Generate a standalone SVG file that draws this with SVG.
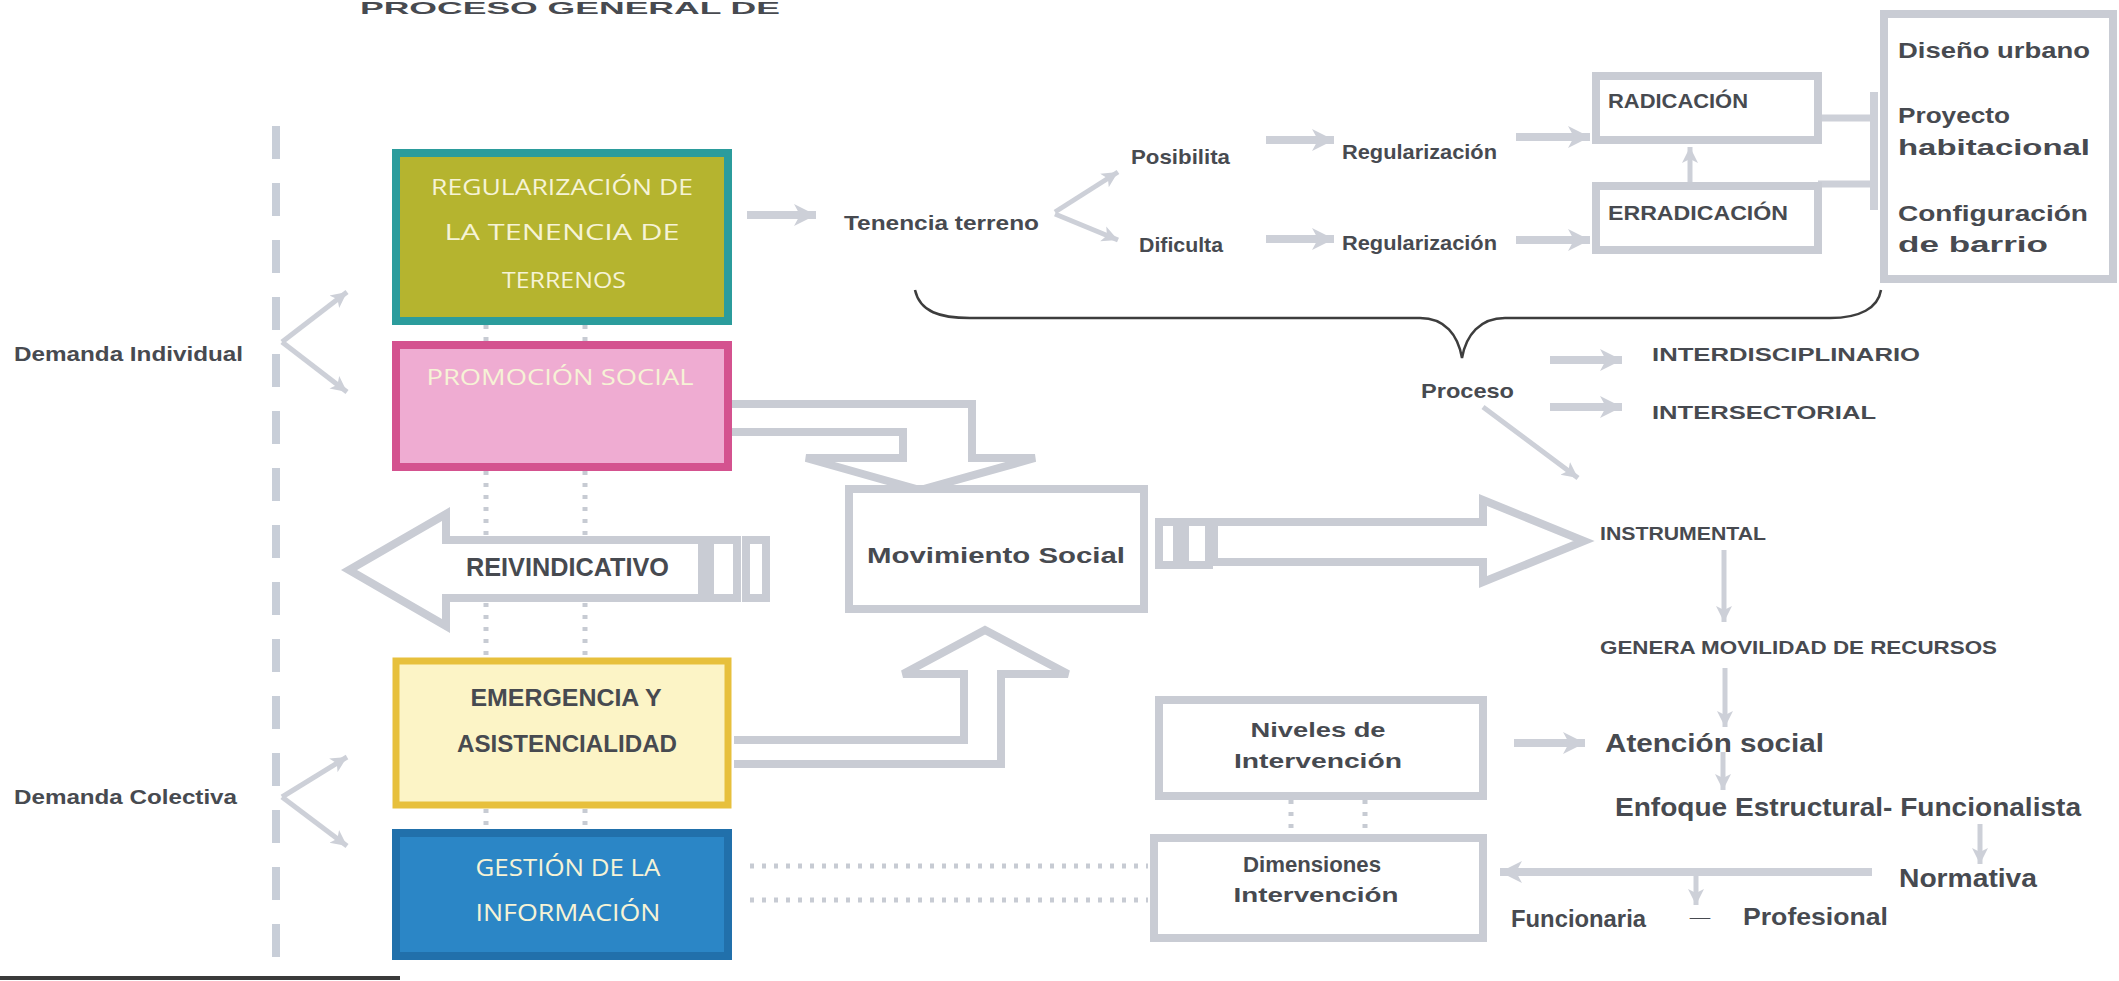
<svg xmlns="http://www.w3.org/2000/svg" width="2119" height="981" viewBox="0 0 2119 981">
<style>
.t{font-family:"Liberation Sans","DejaVu Sans",sans-serif;font-weight:bold;fill:#474a50}
.w{font-family:"Open Sans","Liberation Sans",sans-serif;fill:#f6f3d6}
.box{fill:#fff;stroke:#c9ccd4;stroke-width:8}
.hol{fill:#fff;stroke:#c9ccd4;stroke-width:8;stroke-linejoin:miter}
.ar{stroke:#cdd0d8;stroke-width:8;fill:none}
.ar2{stroke:#cdd0d8;stroke-width:5;fill:none}
.dot{stroke:#c7cbd3;stroke-width:5;stroke-dasharray:4 8;fill:none}
</style>
<defs>
<marker id="h" markerUnits="userSpaceOnUse" markerWidth="24" markerHeight="24" refX="22" refY="12" orient="auto">
<path d="M0,1 L22,12 L0,23 L6,12 z" fill="#cdd0d8"/>
</marker>
<marker id="hs" markerUnits="userSpaceOnUse" markerWidth="18" markerHeight="18" refX="16" refY="9" orient="auto">
<path d="M0,1 L16,9 L0,17 L4,9 z" fill="#cdd0d8"/>
</marker>
</defs>
<rect width="2119" height="981" fill="#fff"/>

<text class="t" x="360" y="14" font-size="17" textLength="420" lengthAdjust="spacingAndGlyphs" fill="#3a4046">PROCESO GENERAL DE</text>

<line x1="276" y1="126" x2="276" y2="981" stroke="#c8ced8" stroke-width="8" stroke-dasharray="33 24"/>
<line x1="0" y1="978" x2="400" y2="978" stroke="#3a3a3a" stroke-width="4"/>

<g id="connectors">
<path class="dot" d="M486 325V341M585 325V341M486 471V657M585 471V657M486 809V829M585 809V829"/>
<path class="dot" d="M750 866H1148M750 900H1148M1291 800V834M1365 800V834"/>
<line class="ar2" x1="282" y1="342" x2="347" y2="292" marker-end="url(#hs)"/>
<line class="ar2" x1="282" y1="342" x2="347" y2="392" marker-end="url(#hs)"/>
<line class="ar2" x1="282" y1="797" x2="347" y2="757" marker-end="url(#hs)"/>
<line class="ar2" x1="282" y1="797" x2="347" y2="846" marker-end="url(#hs)"/>
<line class="ar" x1="747" y1="215" x2="816" y2="215" marker-end="url(#h)"/>
<line class="ar2" x1="1055" y1="212" x2="1118" y2="172" marker-end="url(#hs)"/>
<line class="ar2" x1="1055" y1="214" x2="1118" y2="240" marker-end="url(#hs)"/>
<line class="ar" x1="1266" y1="140" x2="1334" y2="140" marker-end="url(#h)"/>
<line class="ar" x1="1266" y1="239" x2="1334" y2="239" marker-end="url(#h)"/>
<line class="ar" x1="1516" y1="137" x2="1590" y2="137" marker-end="url(#h)"/>
<line class="ar" x1="1516" y1="240" x2="1590" y2="240" marker-end="url(#h)"/>
<line class="ar2" x1="1690" y1="184" x2="1690" y2="147" marker-end="url(#hs)"/>
<path d="M1818 118H1874M1818 184H1874" stroke="#cdd0d8" stroke-width="7"/>
<rect x="1870" y="92" width="8" height="118" fill="#cdd0d8"/>
<path d="M915 290C920 312 940 318 970 318L1420 318C1445 318 1458 335 1462 358C1466 335 1480 318 1505 318L1830 318C1860 318 1878 308 1881 290" fill="none" stroke="#3d3d3d" stroke-width="2.5"/>
<line class="ar" x1="1550" y1="360" x2="1622" y2="360" marker-end="url(#h)"/>
<line class="ar" x1="1550" y1="407" x2="1622" y2="407" marker-end="url(#h)"/>
<line class="ar2" x1="1483" y1="407" x2="1578" y2="478" marker-end="url(#hs)"/>
<line class="ar2" x1="1724" y1="550" x2="1724" y2="622" marker-end="url(#hs)"/>
<line class="ar2" x1="1725" y1="668" x2="1725" y2="727" marker-end="url(#hs)"/>
<line class="ar2" x1="1723" y1="752" x2="1723" y2="790" marker-end="url(#hs)"/>
<line class="ar2" x1="1980" y1="824" x2="1980" y2="864" marker-end="url(#hs)"/>
<line class="ar" x1="1872" y1="872" x2="1500" y2="872" marker-end="url(#h)"/>
<line class="ar2" x1="1696" y1="872" x2="1696" y2="905" marker-end="url(#hs)"/>
<line class="ar" x1="1514" y1="743" x2="1585" y2="743" marker-end="url(#h)"/>
<path class="hol" d="M731 404H972V458H1035L920 490L806 458H903V432H731"/>
<path class="hol" d="M734 764H1001V674H1068L985 630L903 674H964V740H734"/>
<path class="hol" d="M702 540H446V514L349 570L446 626V598H702Z"/>
<rect class="box" x="710" y="540" width="27" height="58"/>
<rect class="box" x="746" y="540" width="20" height="58"/>
<path class="hol" d="M1214 522H1483V500L1584 541L1483 582V562H1214Z"/>
<rect class="box" x="1159" y="522" width="18" height="43"/>
<rect class="box" x="1185" y="522" width="24" height="43"/>
</g>

<g id="n-regularizacion">
<rect x="396" y="153" width="332" height="168" fill="#b5b42f" stroke="#2b9c9c" stroke-width="8"/>
<text class="w" x="562" y="195" font-size="22" text-anchor="middle" textLength="262" lengthAdjust="spacingAndGlyphs">REGULARIZACIÓN DE</text>
<text class="w" x="562" y="240" font-size="22" text-anchor="middle" textLength="235" lengthAdjust="spacingAndGlyphs">LA TENENCIA DE</text>
<text class="w" x="564" y="288" font-size="22" text-anchor="middle" textLength="124" lengthAdjust="spacingAndGlyphs">TERRENOS</text>
</g>
<g id="n-promocion">
<rect x="396" y="345" width="332" height="122" fill="#efacd2" stroke="#d4528f" stroke-width="8"/>
<text class="w" x="560" y="385" font-size="22" text-anchor="middle" textLength="267" lengthAdjust="spacingAndGlyphs" fill="#fbeef6">PROMOCIÓN SOCIAL</text>
</g>
<g id="n-emergencia">
<rect x="396" y="661" width="332" height="144" fill="#fcf4c6" stroke="#e7c03c" stroke-width="7"/>
<text class="t" x="566" y="706" font-size="24" text-anchor="middle" textLength="191" lengthAdjust="spacingAndGlyphs" fill="#3c3d40">EMERGENCIA Y</text>
<text class="t" x="567" y="752" font-size="24" text-anchor="middle" textLength="220" lengthAdjust="spacingAndGlyphs" fill="#3c3d40">ASISTENCIALIDAD</text>
</g>
<g id="n-gestion">
<rect x="396" y="833" width="332" height="123" fill="#2b86c6" stroke="#2170ab" stroke-width="8"/>
<text class="w" x="568" y="876" font-size="23" text-anchor="middle" textLength="185" lengthAdjust="spacingAndGlyphs" fill="#f2f7fb">GESTIÓN DE LA</text>
<text class="w" x="568" y="921" font-size="23" text-anchor="middle" textLength="185" lengthAdjust="spacingAndGlyphs" fill="#f2f7fb">INFORMACIÓN</text>
</g>
<g id="n-demanda-ind"><text class="t" x="14" y="361" font-size="20" textLength="229" lengthAdjust="spacingAndGlyphs">Demanda Individual</text></g>
<g id="n-demanda-col"><text class="t" x="14" y="804" font-size="20" textLength="223" lengthAdjust="spacingAndGlyphs">Demanda Colectiva</text></g>
<g id="n-reivindicativo"><text class="t" x="466" y="576" font-size="26" textLength="203" lengthAdjust="spacingAndGlyphs" fill="#3f4246">REIVINDICATIVO</text></g>
<g id="n-movimiento">
<rect class="box" x="849" y="489" width="295" height="120"/>
<text class="t" x="996" y="563" font-size="22" text-anchor="middle" textLength="258" lengthAdjust="spacingAndGlyphs">Movimiento Social</text>
</g>
<g id="n-tenencia"><text class="t" x="844" y="230" font-size="21" textLength="195" lengthAdjust="spacingAndGlyphs">Tenencia terreno</text></g>
<g id="n-posibilita"><text class="t" x="1131" y="164" font-size="21" textLength="99" lengthAdjust="spacingAndGlyphs">Posibilita</text></g>
<g id="n-dificulta"><text class="t" x="1139" y="252" font-size="21" textLength="84" lengthAdjust="spacingAndGlyphs">Dificulta</text></g>
<g id="n-reg1"><text class="t" x="1342" y="159" font-size="21" textLength="155" lengthAdjust="spacingAndGlyphs">Regularización</text></g>
<g id="n-reg2"><text class="t" x="1342" y="250" font-size="21" textLength="155" lengthAdjust="spacingAndGlyphs">Regularización</text></g>
<g id="n-radicacion">
<rect class="box" x="1596" y="76" width="222" height="64"/>
<text class="t" x="1608" y="108" font-size="20" textLength="140" lengthAdjust="spacingAndGlyphs">RADICACIÓN</text>
</g>
<g id="n-erradicacion">
<rect class="box" x="1596" y="186" width="222" height="64"/>
<text class="t" x="1608" y="220" font-size="20" textLength="180" lengthAdjust="spacingAndGlyphs">ERRADICACIÓN</text>
</g>
<g id="n-diseno">
<rect class="box" x="1884" y="14" width="229" height="265"/>
<text class="t" x="1898" y="58" font-size="22" textLength="192" lengthAdjust="spacingAndGlyphs">Diseño urbano</text>
<text class="t" x="1898" y="123" font-size="22" textLength="112" lengthAdjust="spacingAndGlyphs">Proyecto</text>
<text class="t" x="1898" y="155" font-size="22" textLength="192" lengthAdjust="spacingAndGlyphs">habitacional</text>
<text class="t" x="1898" y="221" font-size="22" textLength="190" lengthAdjust="spacingAndGlyphs">Configuración</text>
<text class="t" x="1898" y="252" font-size="22" textLength="150" lengthAdjust="spacingAndGlyphs">de barrio</text>
</g>
<g id="n-proceso"><text class="t" x="1421" y="398" font-size="21" textLength="93" lengthAdjust="spacingAndGlyphs">Proceso</text></g>
<g id="n-interdisc"><text class="t" x="1652" y="361" font-size="19" textLength="268" lengthAdjust="spacingAndGlyphs">INTERDISCIPLINARIO</text></g>
<g id="n-intersect"><text class="t" x="1652" y="419" font-size="19" textLength="224" lengthAdjust="spacingAndGlyphs">INTERSECTORIAL</text></g>
<g id="n-instrumental"><text class="t" x="1600" y="540" font-size="19" textLength="166" lengthAdjust="spacingAndGlyphs">INSTRUMENTAL</text></g>
<g id="n-genera"><text class="t" x="1600" y="654" font-size="19" textLength="397" lengthAdjust="spacingAndGlyphs">GENERA MOVILIDAD DE RECURSOS</text></g>
<g id="n-atencion"><text class="t" x="1605" y="752" font-size="26" textLength="219" lengthAdjust="spacingAndGlyphs">Atención social</text></g>
<g id="n-enfoque"><text class="t" x="1615" y="816" font-size="25" textLength="466" lengthAdjust="spacingAndGlyphs">Enfoque Estructural- Funcionalista</text></g>
<g id="n-normativa"><text class="t" x="1899" y="887" font-size="25" textLength="138" lengthAdjust="spacingAndGlyphs">Normativa</text></g>
<g id="n-funcionaria"><text class="t" x="1511" y="927" font-size="23" textLength="135" lengthAdjust="spacingAndGlyphs">Funcionaria</text></g>
<g id="n-guion"><text class="t" x="1690" y="916" font-size="24" textLength="20" lengthAdjust="spacingAndGlyphs">_</text></g>
<g id="n-profesional"><text class="t" x="1743" y="925" font-size="24" textLength="145" lengthAdjust="spacingAndGlyphs">Profesional</text></g>
<g id="n-niveles">
<rect class="box" x="1159" y="700" width="324" height="96"/>
<text class="t" x="1318" y="737" font-size="21" text-anchor="middle" textLength="135" lengthAdjust="spacingAndGlyphs">Niveles de</text>
<text class="t" x="1318" y="768" font-size="21" text-anchor="middle" textLength="168" lengthAdjust="spacingAndGlyphs">Intervención</text>
</g>
<g id="n-dimensiones">
<rect class="box" x="1154" y="838" width="329" height="100"/>
<text class="t" x="1312" y="872" font-size="22" text-anchor="middle" textLength="138" lengthAdjust="spacingAndGlyphs">Dimensiones</text>
<text class="t" x="1316" y="902" font-size="21" text-anchor="middle" textLength="165" lengthAdjust="spacingAndGlyphs">Intervención</text>
</g>
</svg>
